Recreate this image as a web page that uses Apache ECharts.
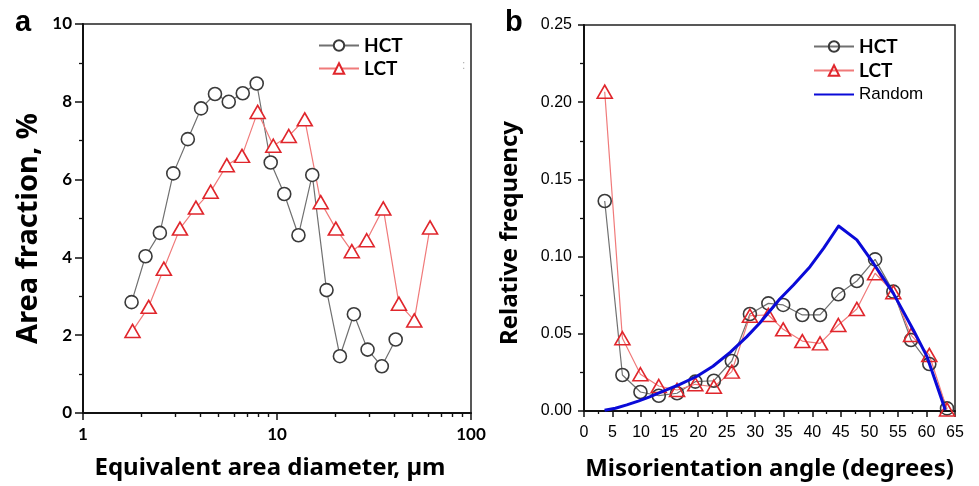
<!DOCTYPE html>
<html><head><meta charset="utf-8">
<script src="https://cdn.jsdelivr.net/npm/echarts@6/dist/echarts.min.js"></script>
<style>html,body{margin:0;padding:0;background:#fff}#c{width:979px;height:486px}</style>
</head><body><div id="c"></div>
<script>
// ---- Panel a: area fraction vs equivalent area diameter ----
const aHctX = [1.78, 2.10, 2.49, 2.92, 3.47, 4.06, 4.79, 5.64, 6.66, 7.86, 9.28, 10.9, 12.9, 15.2, 18.0, 21.1, 24.9, 29.3, 34.7, 40.9];
const aHctY = [2.85, 4.03, 4.63, 6.16, 7.04, 7.83, 8.20, 8.00, 8.22, 8.47, 6.44, 5.63, 4.57, 6.12, 3.16, 1.46, 2.54, 1.63, 1.20, 1.89];
const aLctX = [1.80, 2.18, 2.61, 3.16, 3.82, 4.55, 5.51, 6.60, 7.95, 9.57, 11.5, 13.9, 16.8, 20.1, 24.3, 29.0, 35.3, 42.5, 51.0, 61.5];
const aLctY = [2.11, 2.73, 3.71, 4.74, 5.28, 5.69, 6.37, 6.61, 7.74, 6.87, 7.12, 7.55, 5.42, 4.74, 4.16, 4.44, 5.26, 2.81, 2.38, 4.77];
const aXMajor = [1, 10, 100];
const aXMinor = [2, 3, 4, 5, 6, 7, 8, 9, 20, 30, 40, 50, 60, 70, 80, 90];

// ---- Panel b: relative frequency vs misorientation angle ----
const bX    = [3.63, 6.73, 9.89, 13.1, 16.3, 19.5, 22.75, 25.9, 29.07, 32.3, 34.9, 38.25, 41.35, 44.56, 47.8, 51.0, 54.2, 57.3, 60.5, 63.6];
const bHct  = [0.136, 0.0233, 0.0123, 0.0099, 0.0115, 0.019, 0.0196, 0.0324, 0.0628, 0.0697, 0.0687, 0.0622, 0.0622, 0.0756, 0.0842, 0.0982, 0.0773, 0.046, 0.0304, 0.0017];
const bLct  = [0.2068, 0.0471, 0.0238, 0.0162, 0.0136, 0.0173, 0.0157, 0.0255, 0.0617, 0.0622, 0.0529, 0.0453, 0.0438, 0.0557, 0.0661, 0.0892, 0.0769, 0.0492, 0.0363, 0.001];
const bRandX = [3.6, 5.5, 7.5, 9.5, 11.5, 14.0, 16.8, 19.8, 22.6, 25.6, 28.5, 30.8, 34.3, 36.7, 39.6, 42.0, 44.6, 47.8, 50.7, 54.2, 57.7, 60.1, 63.3];
const bRandY = [0.0005, 0.0018, 0.0040, 0.0064, 0.0092, 0.0130, 0.0172, 0.0225, 0.0290, 0.0380, 0.0480, 0.0570, 0.0725, 0.0816, 0.0935, 0.1055, 0.1198, 0.1108, 0.0957, 0.0762, 0.0525, 0.0352, 0.0006];

const zip = (xs, ys) => xs.map((x, i) => [x, ys[i]]);
const TF = '"Noto Sans", "Open Sans", sans-serif';
const LF = 'Lato, "Noto Sans", sans-serif';
const AF = '"Liberation Sans", Arial, sans-serif';
const GREY = '#3a3a3a', GREYL = '#707070', RED = '#e0262c', REDL = '#f07a7a', BLUE = '#0a0ad8';
const TK = '#111';

const chart = echarts.init(document.getElementById('c'), null, {renderer: 'canvas'});
chart.setOption({
  animation: false,
  backgroundColor: '#fff',
  grid: [
    {left: 83, top: 24, right: 508, bottom: 73, outerBoundsMode: 'none', show: true, borderColor: '#222', borderWidth: 1.5, backgroundColor: 'transparent'},
    {left: 584, top: 25, right: 24, bottom: 75, outerBoundsMode: 'none', show: true, borderColor: '#222', borderWidth: 1.5, backgroundColor: 'transparent'}
  ],
  title: [
    {text: 'a', left: 10, top: 3, textStyle: {fontFamily: AF, fontWeight: 'bold', fontSize: 29, color: '#000'}},
    {text: 'b', left: 500, top: 3, textStyle: {fontFamily: AF, fontWeight: 'bold', fontSize: 29, color: '#000'}}
  ],
  legend: [
    {
      orient: 'vertical', left: 313, top: 30, itemWidth: 40, itemHeight: 13, itemGap: 2,
      textStyle: {fontFamily: LF, fontWeight: 'bold', fontSize: 19, lineHeight: 21, color: '#000'},
      data: [{name: 'HCT'}, {name: 'LCT'}],
      selectedMode: false
    },
    {
      orient: 'vertical', left: 808, top: 31, itemWidth: 40, itemHeight: 13, itemGap: 3,
      textStyle: {fontFamily: LF, fontWeight: 'bold', fontSize: 19, lineHeight: 21, color: '#000'},
      data: [{name: 'HCT '}, {name: 'LCT '},
             {name: 'Random', itemStyle: {color: 'transparent', borderColor: 'transparent', borderWidth: 0},
              textStyle: {fontFamily: AF, fontWeight: 'normal', fontSize: 17, lineHeight: 21}}],
      selectedMode: false
    }
  ],
  xAxis: [
    {
      type: 'log', logBase: 10, min: 1, max: 100, gridIndex: 0,
      name: 'Equivalent area diameter, µm', nameLocation: 'middle', nameGap: 43,
      nameTextStyle: {fontFamily: TF, fontWeight: 'bold', fontSize: 24, color: '#000', padding: [0, 14, 0, 0]},
      axisLine: {lineStyle: {color: '#111', width: 2}},
      axisTick: {length: 7, customValues: aXMajor, lineStyle: {color: TK, width: 1.5}},
      axisLabel: {fontFamily: LF, fontWeight: 'bold', fontSize: 17, color: '#000', margin: 13, customValues: aXMajor},
      splitLine: {show: false}
    },
    {
      type: 'log', logBase: 10, min: 1, max: 100, gridIndex: 0, position: 'bottom',
      axisLine: {show: false},
      axisTick: {show: true, length: 4, customValues: aXMinor, lineStyle: {color: TK, width: 1.4}},
      axisLabel: {show: false}, splitLine: {show: false}
    },
    {
      type: 'value', min: 0, max: 65, interval: 5, gridIndex: 1,
      name: 'Misorientation angle (degrees)', nameLocation: 'middle', nameGap: 46,
      nameTextStyle: {fontFamily: TF, fontWeight: 'bold', fontSize: 24, color: '#000'},
      axisLine: {lineStyle: {color: '#111', width: 2}},
      axisTick: {length: 6, lineStyle: {color: TK, width: 1.5}},
      minorTick: {show: true, splitNumber: 2, length: 3, lineStyle: {color: TK, width: 1.3}},
      axisLabel: {fontFamily: AF, fontSize: 16, color: '#000', margin: 14},
      splitLine: {show: false}
    }
  ],
  yAxis: [
    {
      type: 'value', min: 0, max: 10, interval: 2, gridIndex: 0,
      name: 'Area fraction, %', nameLocation: 'middle', nameGap: 40,
      nameTextStyle: {fontFamily: TF, fontWeight: 'bold', fontSize: 29, color: '#000', padding: [0, 20, 0, 0]},
      axisLine: {lineStyle: {color: '#111', width: 2}},
      axisTick: {length: 8, lineStyle: {color: TK, width: 1.5}},
      minorTick: {show: true, splitNumber: 2, length: 4, lineStyle: {color: TK, width: 1.3}},
      axisLabel: {fontFamily: LF, fontWeight: 'bold', fontSize: 17, color: '#000', margin: 11},
      splitLine: {show: false}
    },
    {
      type: 'value', min: 0, max: 0.25, interval: 0.05, gridIndex: 1,
      name: 'Relative frequency', nameLocation: 'middle', nameGap: 62,
      nameTextStyle: {fontFamily: TF, fontWeight: 'bold', fontSize: 24, color: '#000', padding: [0, 30, 0, 0]},
      axisLine: {lineStyle: {color: '#111', width: 2}},
      axisTick: {length: 6, lineStyle: {color: TK, width: 1.5}},
      minorTick: {show: true, splitNumber: 2, length: 4, lineStyle: {color: TK, width: 1.3}},
      axisLabel: {fontFamily: AF, fontSize: 16, color: '#000', margin: 12, formatter: v => v.toFixed(2)},
      splitLine: {show: false}
    }
  ],
  series: [
    {
      name: 'HCT', type: 'line', xAxisIndex: 0, yAxisIndex: 0, data: zip(aHctX, aHctY),
      symbol: 'circle', symbolSize: 13, showAllSymbol: true,
      lineStyle: {color: GREYL, width: 1.2},
      itemStyle: {color: '#fff', borderColor: GREY, borderWidth: 1.6}, z: 3
    },
    {
      name: 'LCT', type: 'line', xAxisIndex: 0, yAxisIndex: 0, data: zip(aLctX, aLctY),
      symbol: 'triangle', symbolSize: [15, 13], showAllSymbol: true,
      lineStyle: {color: REDL, width: 1.2},
      itemStyle: {color: '#fff', borderColor: RED, borderWidth: 1.6}, z: 3
    },
    {
      name: 'HCT ', type: 'line', xAxisIndex: 2, yAxisIndex: 1, data: zip(bX, bHct),
      symbol: 'circle', symbolSize: 13, showAllSymbol: true,
      lineStyle: {color: GREYL, width: 1.2},
      itemStyle: {color: 'transparent', borderColor: GREY, borderWidth: 1.6}, z: 3
    },
    {
      name: 'LCT ', type: 'line', xAxisIndex: 2, yAxisIndex: 1, data: zip(bX, bLct),
      symbol: 'triangle', symbolSize: [15, 13], showAllSymbol: true,
      lineStyle: {color: REDL, width: 1.2},
      itemStyle: {color: 'transparent', borderColor: RED, borderWidth: 1.6}, z: 3
    },
    {
      name: 'Random', type: 'line', xAxisIndex: 2, yAxisIndex: 1, data: zip(bRandX, bRandY),
      symbol: 'none',
      lineStyle: {color: BLUE, width: 3, join: 'round'}, itemStyle: {color: BLUE}, z: 4
    }
  ],
  graphic: [
    {type: 'text', left: 462, top: 60, style: {text: ':', fill: '#b0b0b0', font: '12px sans-serif'}}
  ]
});
</script></body></html>
